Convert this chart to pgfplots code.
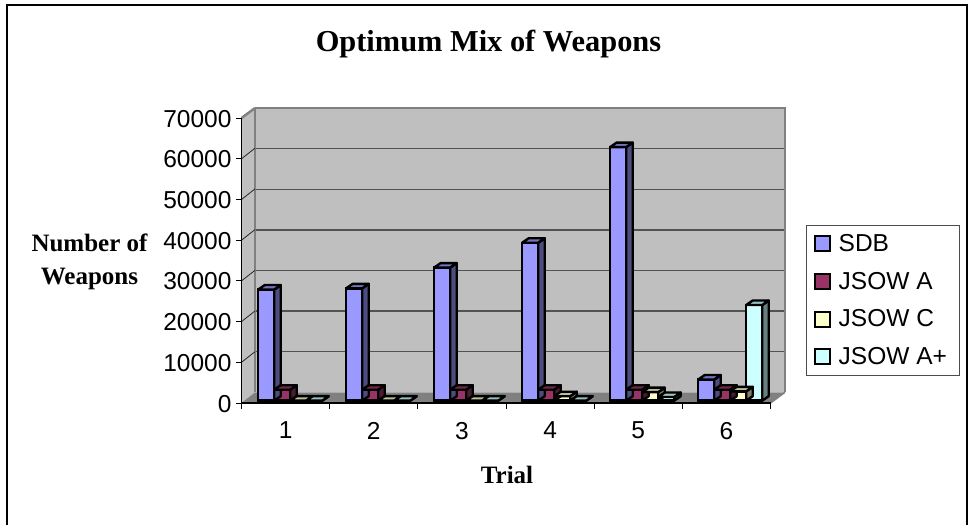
\documentclass[border=0pt]{standalone}
\usepackage{fontspec}
\setmainfont{Liberation Sans}
\newfontfamily\timesf{Liberation Serif}
\usepackage{pgfplots}
\usepackage{pgfplotstable}
\pgfplotsset{compat=1.18}
\pgfplotstableread{
trial sdb  ja   jc   jap
1 27300 2700 0 0
2 27600 2700 0 0
3 32700 2700 0 0
4 38800 2700 1100 0
5 62300 2700 2100 900
6 5200 2700 2300 23500
}\mixdata
\definecolor{csdb}{HTML}{9999FF}\definecolor{csdbs}{HTML}{4D4D80}\definecolor{csdbt}{HTML}{7373BF}
\definecolor{cja}{HTML}{993366}\definecolor{cjas}{HTML}{4D1A33}\definecolor{cjat}{HTML}{73264D}
\definecolor{cjc}{HTML}{FFFFCC}\definecolor{cjcs}{HTML}{808066}\definecolor{cjct}{HTML}{BFBF99}
\definecolor{cjp}{HTML}{CCFFFF}\definecolor{cjps}{HTML}{668080}\definecolor{cjpt}{HTML}{99BFBF}
% side and top faces of a bar, as a mark sitting at the bar's top centre
\newcommand\declbar[4]{%
\pgfdeclareplotmark{#1}{%
 \pgfsetlinewidth{2.4pt}\pgfsetstrokecolor{black}\pgfsetroundjoin
 \pgfsetfillcolor{#3}%
 \pgfpathmoveto{\pgfqpoint{\dimexpr#2pt+8pt}{-\barh pt}}%
 \pgfpathlineto{\pgfqpoint{\dimexpr#2pt+14.5pt}{\dimexpr-\barh pt+4.5pt}}%
 \pgfpathlineto{\pgfqpoint{\dimexpr#2pt+14.5pt}{4.5pt}}%
 \pgfpathlineto{\pgfqpoint{\dimexpr#2pt+8pt}{0pt}}%
 \pgfpathclose\pgfusepath{fill,stroke}%
 \pgfsetfillcolor{#4}%
 \pgfpathmoveto{\pgfqpoint{\dimexpr#2pt-8pt}{0pt}}%
 \pgfpathlineto{\pgfqpoint{\dimexpr#2pt-1.5pt}{4.5pt}}%
 \pgfpathlineto{\pgfqpoint{\dimexpr#2pt+14.5pt}{4.5pt}}%
 \pgfpathlineto{\pgfqpoint{\dimexpr#2pt+8pt}{0pt}}%
 \pgfpathclose\pgfusepath{fill,stroke}%
}}
\declbar{bsdb}{-20}{csdbs}{csdbt}
\declbar{bja}{-4}{cjas}{cjat}
\declbar{bjc}{12}{cjcs}{cjct}
\declbar{bjp}{28}{cjps}{cjpt}
\pgfplotsset{
 barstyle/.style={ybar,bar width=16pt,draw=black,line width=2.4pt,fill=#1},
 legend image code/.code={\draw[#1,/tikz/.cd,bar shift=0pt,line width=2pt] (0pt,-7.5pt) rectangle (15.5pt,7.5pt);\path (21pt,0pt);},
}
\begin{document}
\begin{tikzpicture}[x=1pt,y=1pt]
\path[use as bounding box,fill=white] (0,0) rectangle (969,525);
% frame
\draw[black,line width=2pt] (6.5,0) -- (6.5,520) -- (967,520) -- (967,0);
% walls
\fill[black!25] (241.5,122) -- (241.5,407) -- (255,417) -- (255,132.7) -- cycle;
\fill[black!50] (241.5,122) -- (770.5,122) -- (785,132.7) -- (255,132.7) -- cycle;
% back wall
\begin{axis}[at={(255pt,132.7pt)},anchor=south west,scale only axis,width=530pt,height=284.3pt,
 xmin=0,xmax=1,ymin=0,ymax=70000,xtick=\empty,ytick={10000,20000,...,60000},yticklabels={},
 scaled y ticks=false,
 major tick length=0pt,axis background/.style={fill=black!25},
 ymajorgrids,grid style={draw=black!68,line width=1.4pt},
 axis line style={draw=black!50,line width=2.4pt},axis y line*=left,
 axis x line=none]
\end{axis}
\draw[black!50,line width=2.4pt] (255,417) -- (785,417) -- (785,132.7);
\foreach \yy/\yb in {162.7/173.3,203.4/214,244.1/254.7,284.8/295.4,325.5/336.1,366.2/376.8}{
 \draw[black!85,line width=.8pt] (241.5,\yy) -- (255,\yb);}
\draw[black!50,line width=2.4pt] (241.5,407) -- (255,417);
\draw[black!50,line width=1.5pt] (770.5,122) -- (785,132.7);
% front axes
\begin{axis}[at={(241.5pt,122pt)},anchor=south west,scale only axis,width=529pt,height=285pt,
 xmin=0.5,xmax=6.5,ymin=0,ymax=70000,axis x line*=bottom,axis y line*=left,
 axis line style={draw=black,line width=1.2pt,-},
 xtick={0.5,1.5,...,6.5},x tick label as interval,xticklabels={1,2,3,4,5,6},
 ytick={0,10000,...,70000},
 scaled y ticks=false,
 tick style={black,line width=1pt},major tick length=6pt,
 tick align=outside,
 /pgf/number format/1000 sep={},/pgf/number format/assume math mode=true,
 tick label style={font=\fontsize{24.5}{24.5}\selectfont},
 xticklabel style={yshift=-9.5pt},yticklabel style={xshift=-0.5pt,yshift=-0.7pt}]
\end{axis}
% bars
\begin{axis}[at={(242.2pt,124.3pt)},anchor=south west,scale only axis,width=528pt,height=285pt,
 xmin=0.5,xmax=6.5,ymin=0,ymax=70000,hide axis,clip=false,
 legend style={at={(563.8pt,24.7pt)},anchor=south west,draw=black!70,line width=1pt,
   font=\fontsize{24.5}{24.5}\selectfont,row sep=15pt,inner xsep=7pt,inner ysep=7.5pt,
   cells={anchor=west}}]
\addplot[forget plot,only marks,mark=bsdb,visualization depends on={\thisrow{sdb}*0.0040714 \as \barh}] table[x=trial,y=sdb]{\mixdata};
\addplot[barstyle=csdb,bar shift=-20pt] table[x=trial,y=sdb]{\mixdata};
\addlegendentry{SDB}
\addplot[forget plot,only marks,mark=bja,visualization depends on={\thisrow{ja}*0.0040714 \as \barh}] table[x=trial,y=ja]{\mixdata};
\addplot[barstyle=cja,bar shift=-4pt] table[x=trial,y=ja]{\mixdata};
\addlegendentry{JSOW A}
\addplot[forget plot,only marks,mark=bjc,visualization depends on={\thisrow{jc}*0.0040714 \as \barh}] table[x=trial,y=jc]{\mixdata};
\addplot[barstyle=cjc,bar shift=12pt] table[x=trial,y=jc]{\mixdata};
\addlegendentry{JSOW C}
\addplot[forget plot,only marks,mark=bjp,visualization depends on={\thisrow{jap}*0.0040714 \as \barh}] table[x=trial,y=jap]{\mixdata};
\addplot[barstyle=cjp,bar shift=28pt] table[x=trial,y=jap]{\mixdata};
\addlegendentry{JSOW A+\rule{4pt}{0pt}}
\end{axis}
% texts
\node[font=\timesf\bfseries\fontsize{30.4}{30.4}\selectfont] at (488.5,481) {Optimum Mix of Weapons};
\node[font=\timesf\bfseries\fontsize{25}{33.5}\selectfont,align=center] at (89.5,263) {Number of\\Weapons};
\node[font=\timesf\bfseries\fontsize{25}{25}\selectfont] at (507,50) {Trial};
\end{tikzpicture}
\end{document}
